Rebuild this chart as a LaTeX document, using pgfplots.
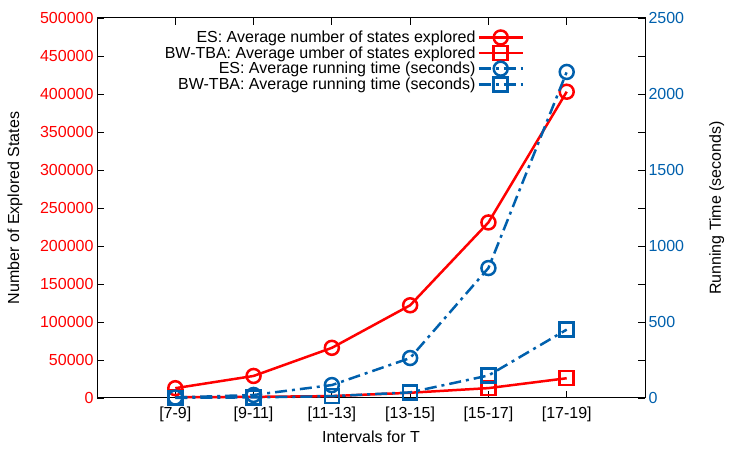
\documentclass[border=0pt]{standalone}
\usepackage{pgfplots}
\pgfplotsset{compat=1.18}
\usepackage{fontspec}
\setmainfont{Liberation Sans}
\definecolor{gpred}{RGB}{255,0,0}
\definecolor{gpblue}{RGB}{0,96,173}
\begin{document}
\begin{tikzpicture}[x=1pt,y=1pt]
\path[use as bounding box] (0,0) rectangle (750,450);
\pgfplotsset{
  common/.style={
    at={(97pt,52pt)}, anchor=south west,
    scale only axis, width=548pt, height=380pt,
    xmin=-1, xmax=6,
    xtick={0,...,5},
    tick align=inside,
    major tick length=7pt,
    minor tick length=7pt,
    every tick/.style={black, line width=0.8pt},
    axis line style={line width=1pt},
    font=\fontsize{16}{19}\selectfont,
    /pgf/number format/assume math mode=true,
    scaled y ticks=false,
    yticklabel style={/pgf/number format/fixed, /pgf/number format/1000 sep={}},
    clip=false,
  },
  redline/.style={gpred, line width=2.5pt, mark options={solid, line width=2.5pt}, mark size=7pt},
  blueline/.style={gpblue, line width=2.5pt, dash pattern=on 12pt off 5pt on 3pt off 5pt, mark options={solid, line width=2.5pt}, mark size=7pt},
}
\begin{axis}[common,
  ymin=0, ymax=500000,
  ytick={0,50000,...,500000},
  ytick pos=left,
  xtick pos=both,
  xticklabels={{[7-9]},{[9-11]},{[11-13]},{[13-15]},{[15-17]},{[17-19]}},
  xticklabel style={yshift=-5pt},
  yticklabel style={gpred},
  xlabel={Intervals for T},
  ylabel={Number of Explored States},
  every axis y label/.style={at={(axis description cs:-0.1496,0.5)}, rotate=90, anchor=center},
  every axis x label/.style={at={(axis description cs:0.5,-0.1026)}, anchor=center},
]
\addplot[redline, mark=o] coordinates {(0,12900) (1,29000) (2,66000) (3,122000) (4,231000) (5,403000)};
\addplot[redline, mark=square] coordinates {(0,1000) (1,1500) (2,2500) (3,6900) (4,13000) (5,26000)};
\end{axis}
\begin{axis}[common,
  ymin=0, ymax=2500,
  ytick={0,500,...,2500},
  minor ytick={250,750,...,2250},
  axis y line*=right,
  axis x line=none,
  yticklabel style={gpblue, anchor=west},
  ylabel={Running Time (seconds)},
  every axis y label/.style={at={(axis description cs:1.131,0.5)}, rotate=90, anchor=center},
  legend style={draw=none, fill=none, at={(axis description cs:0.785,0.977)}, anchor=north east, font=\fontsize{16}{16}\selectfont, row sep=-1.5pt, legend cell align=right},
  legend plot pos=right,
  legend image code/.code={\draw[mark repeat=2,mark phase=2,#1] plot coordinates {(0pt,0pt) (22pt,0pt) (44pt,0pt)};},
]
\addlegendimage{redline, mark=o}
\addlegendentry{ES: Average number of states explored}
\addlegendimage{redline, mark=square}
\addlegendentry{BW-TBA: Average umber of states explored}
\addplot[blueline, mark=o] coordinates {(0,3) (1,20) (2,85) (3,263) (4,855) (5,2145)};
\addlegendentry{ES: Average running time (seconds)}
\addplot[blueline, mark=square] coordinates {(0,1) (1,4) (2,12) (3,37) (4,148) (5,450)};
\addlegendentry{BW-TBA: Average running time (seconds)}
\end{axis}
\end{tikzpicture}
\end{document}
